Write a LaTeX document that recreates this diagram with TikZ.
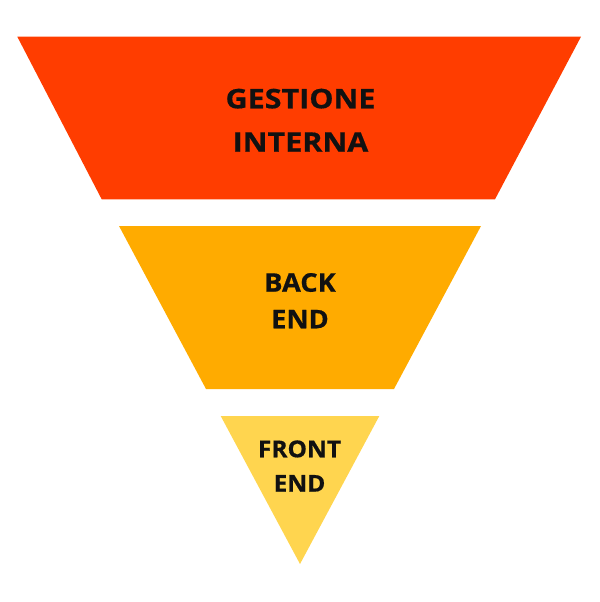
\documentclass[tikz,border=0pt]{standalone}
\usepackage{fontspec}
\setmainfont{Open Sans}
\newfontfamily\lblfont{Open Sans}[BoldFeatures={FakeBold=0.6}]
\definecolor{cTop}{HTML}{FF3D00}
\definecolor{cMid}{HTML}{FFAB00}
\definecolor{cLow}{HTML}{FFD54F}
\definecolor{cText}{HTML}{111111}
\tikzset{
  lbl/.style={anchor=base, inner sep=0pt, text=cText},
}
\newcommand{\toptext}[1]{\scalebox{1.13}[1]{\lblfont\fontsize{27bp}{32bp}\selectfont\bfseries #1}}
\newcommand{\midtext}[1]{\scalebox{1.06}[1]{\lblfont\fontsize{25.7bp}{30bp}\selectfont\bfseries #1}}
\newcommand{\lowtext}[1]{\scalebox{1.05}[1]{\lblfont\fontsize{23.3bp}{28bp}\selectfont\bfseries #1}}
\begin{document}
\begin{tikzpicture}[x=1bp,y=-1bp]
\useasboundingbox (0,0) rectangle (600,602);
\fill[cTop] (17.3,36.7) -- (581,36.7) -- (495,199.3) -- (101.7,199.3) -- cycle;
\fill[cMid] (119,226) -- (481,226) -- (394,389) -- (206,389) -- cycle;
\fill[cLow] (220.7,416) -- (379.3,416) -- (300,564) -- cycle;
\node[lbl] (g1) at (300.5,108.3) {\toptext{GESTIONE}};
\node[lbl] (g2) at (300.5,151.7) {\toptext{INTERNA}};
\node[lbl] (b1) at (300,291.7) {\midtext{BACK}};
\node[lbl] (b2) at (300,328.3) {\midtext{END}};
\node[lbl] (f1) at (299.5,457.3) {\lowtext{FRONT}};
\node[lbl] (f2) at (299.5,491.7) {\lowtext{END}};
\end{tikzpicture}
\end{document}
